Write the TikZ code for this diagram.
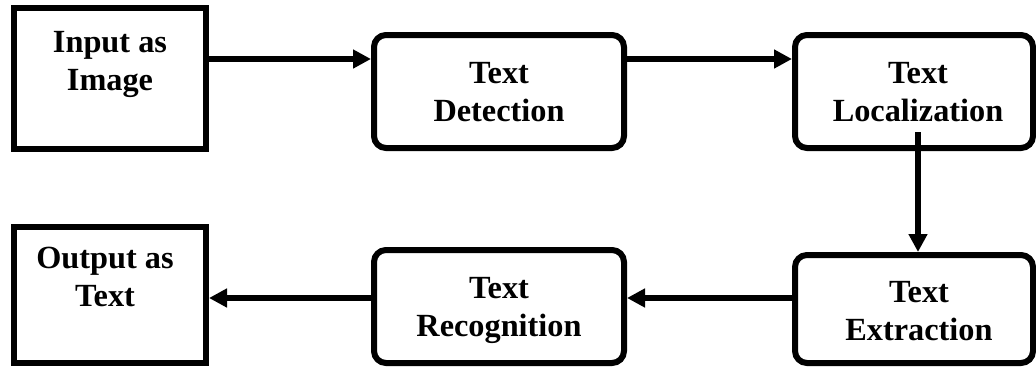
\documentclass[tikz,border=0pt]{standalone}
\usepackage{fontspec}
\setmainfont{Liberation Serif}
\usetikzlibrary{arrows.meta,calc}
\newcommand{\twolines}[2]{\vtop{\baselineskip=38pt\halign{\hfil##\hfil\cr #1\cr #2\cr}}}
\begin{document}
\begin{tikzpicture}[x=1pt,y=-1pt,
  box/.style={draw=black,line width=6pt,inner sep=0pt,fill=white},
  sqbox/.style={box},
  rbox/.style={box,rounded corners=12pt},
  lbl/.style={anchor=base,inner sep=0pt,font=\bfseries\fontsize{32.3}{38}\selectfont},
  arr/.style={line width=6pt,-{Triangle[length=18pt,width=18pt]}}]
\useasboundingbox (0,0) rectangle (1036,367);
% boxes
\node[sqbox,minimum width=192pt,minimum height=141pt] (b1) at (110,78.5) {};
\node[rbox,minimum width=250pt,minimum height=113pt] (b2) at (499,91.5) {};
\node[rbox,minimum width=238pt,minimum height=113pt] (b3) at (914,91.5) {};
\node[sqbox,minimum width=192pt,minimum height=136pt] (b4) at (110,295) {};
\node[rbox,minimum width=250pt,minimum height=113pt] (b5) at (499,306.5) {};
\node[rbox,minimum width=238pt,minimum height=108pt] (b6) at (914,309) {};
% labels
\node[lbl] (t1) at (110,52) {\twolines{Input as}{Image}};
\node[lbl] (t2) at (499,83) {\twolines{Text}{Detection}};
\node[lbl] (t3) at (918,83) {\twolines{Text}{Localization}};
\node[lbl] (t4) at (105,268) {\twolines{Output as}{Text}};
\node[lbl] (t5) at (499,298) {\twolines{Text}{Recognition}};
\node[lbl] (t6) at (919,302) {\twolines{Text}{Extraction}};
% connectors
\coordinate (r1) at (0,59);
\coordinate (r2) at (0,298);
\coordinate (v1) at (918,132);
\draw[arr] (b1.east |- r1) -- (b2.west |- r1);
\draw[arr] (b2.east |- r1) -- (b3.west |- r1);
\draw[arr] (v1) -- (v1 |- b6.north);
\draw[arr] (b6.west |- r2) -- (b5.east |- r2);
\draw[arr] (b5.west |- r2) -- (b4.east |- r2);
\end{tikzpicture}
\end{document}
